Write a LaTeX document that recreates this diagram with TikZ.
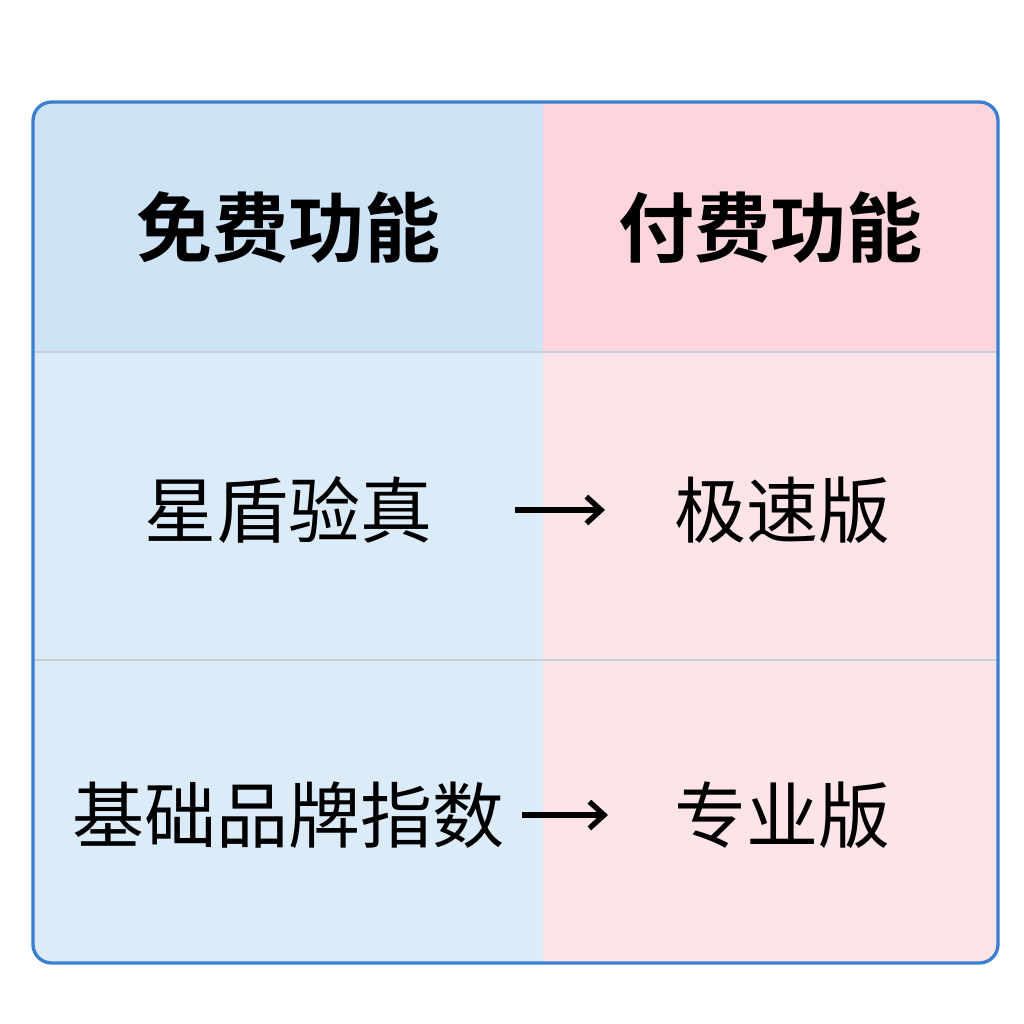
\documentclass[tikz,border=0pt]{standalone}
\usepackage{fontspec}
\newfontfamily\cjk[BoldFont={Noto Sans CJK SC Bold}]{Noto Sans CJK SC}
\usetikzlibrary{arrows.meta}
\definecolor{bord}{HTML}{3A7FD0}
\definecolor{hl}{HTML}{CFE3F7}
\definecolor{hr}{HTML}{FDD5DC}
\definecolor{bl}{HTML}{DCEBF8}
\definecolor{br}{HTML}{FDE4E8}
\definecolor{sep}{HTML}{C9CFD8}
\begin{document}
\begin{tikzpicture}[x=0.75pt,y=-0.75pt,
  hdr/.style={font=\cjk\fontsize{57}{60}\selectfont\bfseries},
  txt/.style={font=\cjk\fontsize{54}{58}\selectfont},
  arr/.style={line width=4pt,-{Straight Barb[length=11pt,width=20pt,line width=4pt]}}]
\useasboundingbox[fill=white] (0,0) rectangle (1024,1024);
\begin{scope}
\clip[rounded corners=14pt] (33,102) rectangle (998,963);
\fill[hl] (33,102) rectangle (543,352);
\fill[hr] (543,102) rectangle (998,352);
\fill[bl] (33,352) rectangle (543,963);
\fill[br] (543,352) rectangle (998,963);
\draw[sep,line width=1.2pt] (33,352) -- (998,352) (33,660) -- (998,660);
\end{scope}
\draw[bord,line width=2.5pt,rounded corners=14pt] (33,102) rectangle (998,963);
\node[hdr] (h1) at (288,228) {免费功能};
\node[hdr] (h2) at (770,228) {付费功能};
\node[txt] (f1) at (288,510) {星盾验真};
\node[txt] (p1) at (782,510) {极速版};
\node[txt] (f2) at (288,815) {基础品牌指数};
\node[txt] (p2) at (782,815) {专业版};
\coordinate (a1s) at (515,510); \coordinate (a1e) at (605,510);
\coordinate (a2s) at (522,815); \coordinate (a2e) at (608,815);
\draw[arr] (a1s) -- (a1e);
\draw[arr] (a2s) -- (a2e);
\end{tikzpicture}
\end{document}
